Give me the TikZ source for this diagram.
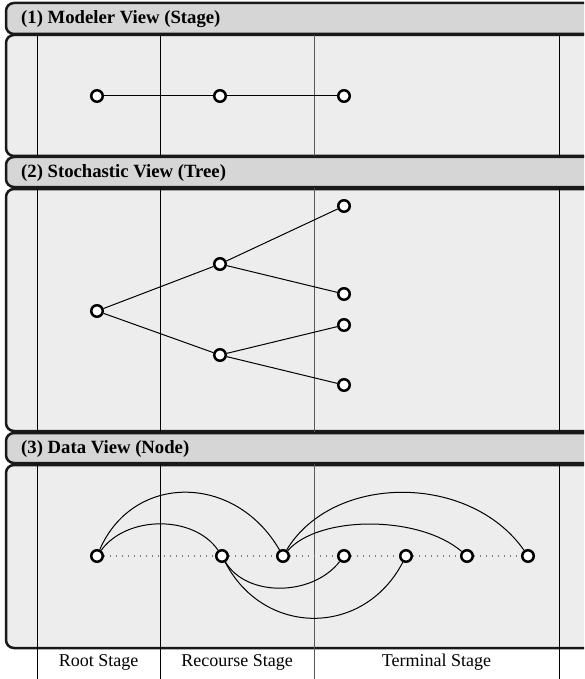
\documentclass[tikz,border=0pt]{standalone}
\usepackage{fontspec}
\setmainfont{Liberation Serif}
\begin{document}
\begin{tikzpicture}[x=1pt,y=-1pt,
  panel/.style={draw=black!90,line width=2.5pt,rounded corners=8pt,fill=black!7},
  headbar/.style={draw=black!90,line width=2.5pt,rounded corners=8pt,fill=black!16},
  headtext/.style={anchor=west,inner sep=0pt,font=\fontsize{18.7}{20}\selectfont\bfseries},
  stagelabel/.style={inner sep=0pt,font=\fontsize{18}{20}\selectfont},
  vline/.style={line width=0.9pt},
  pt/.style={circle,draw=black,fill=white,line width=2.5pt,minimum size=11.5pt,inner sep=0pt},
  link/.style={line width=1pt},
  dotlink/.style={line width=1.3pt,dash pattern=on 1.3pt off 4.7pt,black!50}]
\useasboundingbox (0,0) rectangle (584,679);
\clip (0,0) rectangle (584,679);
% panels
\draw[panel] (6,35) rectangle (620,156);
\draw[panel] (6,189) rectangle (620,431);
\draw[panel] (6,465) rectangle (620,648);
% stage lines
\draw[vline] (37,35) -- (37,679);
\draw[vline] (160,35) -- (160,679);
\draw[vline,black!65] (314,35) -- (314,679);
\draw[vline] (559,35) -- (559,679);
% headers
\draw[headbar] (6,3) rectangle (620,34);
\draw[headbar] (6,157) rectangle (620,187);
\draw[headbar] (6,433) rectangle (620,463);
\node[headtext] (h1) at (21,19) {(1) Modeler View (Stage)};
\node[headtext] (h2) at (21,173) {(2) Stochastic View (Tree)};
\node[headtext] (h3) at (21,449) {(3) Data View (Node)};
% stage labels
\node[stagelabel] (l1) at (98.5,662) {Root Stage};
\node[stagelabel] (l2) at (237,662) {Recourse Stage};
\node[stagelabel] (l3) at (436.5,662) {Terminal Stage};
% (1) stage view
\node[pt] (s1) at (97,96) {};
\node[pt] (s2) at (220,96) {};
\node[pt] (s3) at (344,96) {};
\draw[link] (s1) -- (s2) -- (s3);
% (2) tree
\node[pt] (t0) at (97,311) {};
\node[pt] (t1) at (220,264) {};
\node[pt] (t2) at (220,355) {};
\node[pt] (t11) at (344,206) {};
\node[pt] (t12) at (344,294) {};
\node[pt] (t21) at (344,325) {};
\node[pt] (t22) at (344,385) {};
\draw[link] (t0) -- (t1);
\draw[link] (t0) -- (t2);
\draw[link] (t1) -- (t11);
\draw[link] (t1) -- (t12);
\draw[link] (t2) -- (t21);
\draw[link] (t2) -- (t22);
% (3) data view
\node[pt] (d1) at (97,556) {};
\node[pt] (d2) at (222,556) {};
\node[pt] (d3) at (283,556) {};
\node[pt] (d4) at (344,556) {};
\node[pt] (d5) at (406,556) {};
\node[pt] (d6) at (467,556) {};
\node[pt] (d7) at (528,556) {};
\draw[dotlink] (d1) -- (d2);
\draw[dotlink] (d2) -- (d3);
\draw[dotlink] (d3) -- (d4);
\draw[dotlink] (d4) -- (d5);
\draw[dotlink] (d5) -- (d6);
\draw[dotlink] (d6) -- (d7);
\draw[link] (d1) .. controls +(36,-83) and +(-48,-83) .. (d3);
\draw[link] (d1) .. controls +(30,-41) and +(-28,-41) .. (d2);
\draw[link] (d3) .. controls +(50,-83) and +(-58,-83) .. (d7);
\draw[link] (d3) .. controls +(36,-41) and +(-48,-41) .. (d6);
\draw[link] (d2) .. controls +(24,41) and +(-32,41) .. (d4);
\draw[link] (d2) .. controls +(42,81) and +(-42,81) .. (d5);
\end{tikzpicture}
\end{document}
